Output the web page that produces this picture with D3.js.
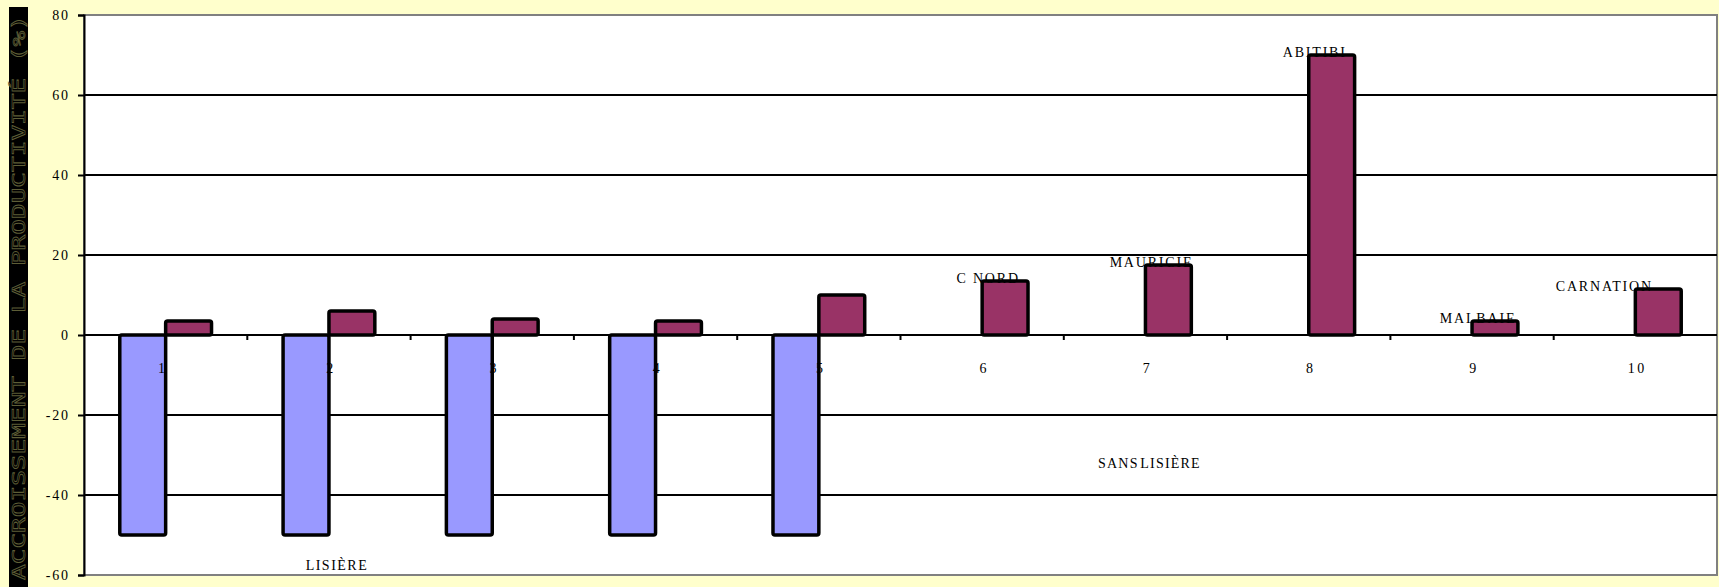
<!DOCTYPE html>
<html>
<head>
<meta charset="utf-8">
<script src="https://cdn.jsdelivr.net/npm/d3@7"></script>
<style>
  html, body { margin: 0; padding: 0; background: #FFFFCC; }
  svg { display: block; }
</style>
</head>
<body>
<svg id="chart" width="1719" height="587"></svg>
<script>
// Categories (sites 1 to 10)
const categories = [1, 2, 3, 4, 5, 6, 7, 8, 9, 10];
// Series: with edge strip ("LISIÈRE") and without ("SANS LISIÈRE")
const lisiere     = [-50, -50, -50, -50, -50, null, null, null, null, null];
const sansLisiere = [3.5, 6, 4, 3.5, 10, 13.5, 17.5, 70, 3.5, 11.5];
// Site names written over the bars of the second series
const siteNames = [null, null, null, null, null, "C NORD", "MAURICIE", "ABITIBI", "MALBAIE", "CARNATION"];
// Value axis ticks
const yTicks = [-60, -40, -20, 0, 20, 40, 60, 80];
const yTitle = "ACCROISSEMENT DE LA PRODUCTIVITÉ (%)";

const svg = d3.select("#chart");
const W = 1719, H = 587;
const plot = { left: 84, right: 1717, top: 15, bottom: 575 };

svg.append("rect").attr("width", W).attr("height", H).attr("fill", "#FFFFCC");

const x = d3.scaleBand().domain(categories).range([plot.left, plot.right]).paddingInner(0).paddingOuter(0);
const inner = d3.scaleBand().domain(["lisiere", "sans"]).range([0, x.bandwidth()]).paddingInner(0).paddingOuter(0.78);
const y = d3.scaleLinear().domain([-60, 80]).range([plot.bottom, plot.top]);

// Plot area
svg.append("rect")
  .attr("x", plot.left).attr("y", plot.top)
  .attr("width", plot.right - plot.left).attr("height", plot.bottom - plot.top)
  .attr("fill", "#ffffff").attr("stroke", "#808080").attr("stroke-width", 2);

// Gridlines
svg.append("g").selectAll("line")
  .data(yTicks.filter(t => t > -60 && t < 80))
  .join("line")
  .attr("x1", plot.left).attr("x2", plot.right)
  .attr("y1", d => y(d)).attr("y2", d => y(d))
  .attr("stroke", "#000").attr("stroke-width", 2);

const serif = "'Liberation Serif', 'Times New Roman', serif";

// Value axis
const yAxis = d3.axisLeft(y).tickValues(yTicks).tickSize(6).tickPadding(10).tickFormat(d => String(d));
const gy = svg.append("g").attr("transform", `translate(${plot.left},0)`).call(yAxis);
gy.select(".domain").attr("stroke", "#000").attr("stroke-width", 2);
gy.selectAll(".tick line").attr("stroke", "#000").attr("stroke-width", 2);
gy.selectAll(".tick text")
  .attr("font-family", serif)
  .attr("font-size", 14).attr("fill", "#000")
  .attr("letter-spacing", "1.8px").attr("dx", "1.8px");

// Category tick marks along the zero line
svg.append("g").selectAll("line")
  .data(categories.slice(1))
  .join("line")
  .attr("x1", d => x(d)).attr("x2", d => x(d))
  .attr("y1", y(0)).attr("y2", y(0) + 5)
  .attr("stroke", "#000").attr("stroke-width", 2);

// Bars
const bars = svg.append("g");
bars.selectAll("rect.lis")
  .data(categories.map((c, i) => ({ c, v: lisiere[i] })).filter(d => d.v != null))
  .join("rect").attr("class", "lis")
  .attr("x", d => x(d.c) + inner("lisiere"))
  .attr("width", inner.bandwidth())
  .attr("y", d => y(Math.max(0, d.v)))
  .attr("height", d => Math.abs(y(d.v) - y(0)))
  .attr("rx", 2)
  .attr("fill", "#9999FF").attr("stroke", "#000").attr("stroke-width", 3.5);

bars.selectAll("rect.sans")
  .data(categories.map((c, i) => ({ c, v: sansLisiere[i] })))
  .join("rect").attr("class", "sans")
  .attr("x", d => x(d.c) + inner("sans"))
  .attr("width", inner.bandwidth())
  .attr("y", d => y(Math.max(0, d.v)))
  .attr("height", d => Math.abs(y(d.v) - y(0)))
  .attr("rx", 2)
  .attr("fill", "#993366").attr("stroke", "#000").attr("stroke-width", 3.5);

// Category labels
svg.append("g").selectAll("text")
  .data(categories)
  .join("text")
  .attr("x", d => x(d) + x.bandwidth() / 2 + (d === 1 ? -3 : 2))
  .attr("y", y(0) + 38)
  .attr("text-anchor", "middle")
  .attr("font-family", serif).attr("font-size", 14)
  .attr("letter-spacing", "2.5px")
  .attr("fill", "#000")
  .text(d => d);

// Site names above the second-series bars
const nameShift = { 10: -37 };
svg.append("g").selectAll("text")
  .data(categories.map((c, i) => ({ c, v: sansLisiere[i], name: siteNames[i] })).filter(d => d.name))
  .join("text")
  .attr("x", d => x(d.c) + x.bandwidth() / 2 + 6 + (nameShift[d.c] || 0))
  .attr("y", d => y(d.v) + 2)
  .attr("text-anchor", "middle")
  .attr("font-family", serif).attr("font-size", 14)
  .attr("letter-spacing", "1.8px")
  .attr("fill", "#000")
  .text(d => d.name);

// Series annotations
svg.append("text")
  .attr("x", x(2) + x.bandwidth() / 2 + 8)
  .attr("y", y(-58.75))
  .attr("text-anchor", "middle")
  .attr("font-family", serif).attr("font-size", 14)
  .attr("letter-spacing", "1.5px")
  .attr("fill", "#000")
  .text("LISIÈRE");

svg.append("text")
  .attr("x", x(7) + x.bandwidth() / 2 + 4)
  .attr("y", y(-33.25))
  .attr("text-anchor", "middle")
  .attr("font-family", serif).attr("font-size", 14)
  .attr("letter-spacing", "1.2px")
  .attr("word-spacing", "-3px")
  .attr("fill", "#000")
  .text("SANS LISIÈRE");

// Vertical title strip
svg.append("rect")
  .attr("x", 9).attr("y", 7).attr("width", 19).attr("height", H - 7)
  .attr("fill", "#000");
svg.append("text")
  .attr("transform", "translate(25,580) rotate(-90)")
  .attr("font-family", "'DejaVu Sans Mono', monospace")
  .attr("font-size", 17)
  .attr("fill", "none").attr("stroke", "#5e5e36").attr("stroke-width", 0.7)
  .attr("textLength", 565).attr("lengthAdjust", "spacingAndGlyphs")
  .text(yTitle);
</script>
</body>
</html>
